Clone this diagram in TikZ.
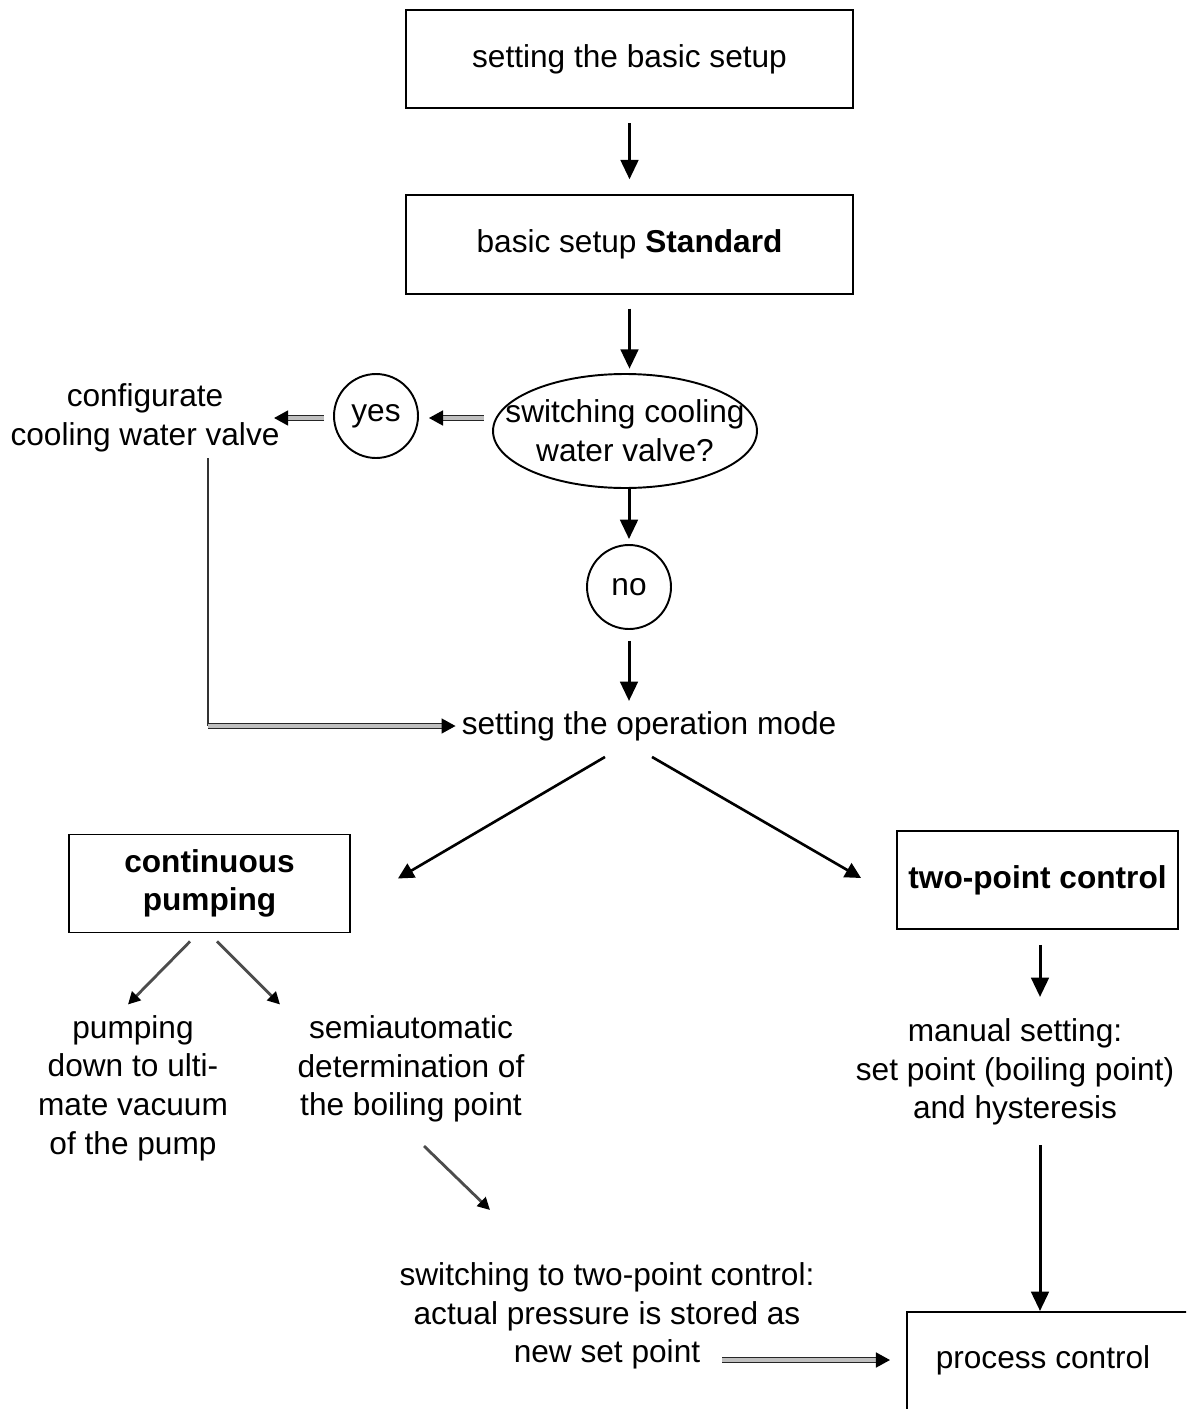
\documentclass[tikz,border=0pt]{standalone}
\usepackage{fontspec}
\setmainfont{Liberation Sans}
\usetikzlibrary{arrows.meta,shapes.geometric,calc}
\begin{document}
\begin{tikzpicture}[x=0.02cm,y=-0.02cm,
  font=\fontsize{18}{22}\selectfont,
  box/.style={draw, line width=1.1pt, align=center},
  bigbox/.style={box, minimum width=8.94cm, minimum height=1.97cm},
  modebox/.style={box, minimum width=5.62cm, minimum height=1.96cm, font=\fontsize{18}{21.6}\selectfont\bfseries},
  roundnode/.style={draw, circle, line width=1.1pt, minimum size=1.68cm, inner sep=0pt},
  txt/.style={align=center},
  mainarrow/.style={line width=1.7pt, -{Triangle[length=11pt,width=10pt]}},
  diagarrow/.style={line width=1.5pt, -{Triangle[length=9pt,width=9pt]}},
  smallarrow/.style={line width=1.6pt, draw=black!70, -{Triangle[length=7pt,width=7pt,fill=black,color=black]}},
  dblarrow/.style={draw=black!85, line width=1.05pt, double=gray!50, double distance=1.8pt, -{Triangle[length=8pt,width=8.5pt,fill=black,color=black]}}
]
\useasboundingbox (0,0) rectangle (1186,1409);
\clip (0,0) rectangle (1186,1409);
\fill[white] (0,0) rectangle (1186,1409);

% nodes
\node[bigbox] (b1) at (629.5,59) {setting the basic setup};
\node[bigbox] (b2) at (629.5,244.5) {basic setup \textbf{Standard}};
\node[draw, ellipse, line width=1.1pt, minimum width=5.28cm, minimum height=2.28cm, inner xsep=-40pt, inner ysep=-12pt, align=center] (ell) at (625,431) {switching cooling\\water valve?};
\node[roundnode] (yes) at (376,416) {yes};
\node[roundnode] (no) at (629,587) {no};
\node[txt] (cfg) at (145,418) {configurate\\cooling water valve};
\node[txt] (op) at (649,726) {setting the operation mode};
\node[modebox] (cp) at (209.5,883.5) {continuous\\pumping};
\node[modebox] (tp) at (1037.5,880) {two-point control};
\node[txt] (pump) at (133,1088) {pumping\\down to ulti-\\mate vacuum\\of the pump};
\node[txt] (semi) at (411,1069) {semiautomatic\\determination of\\the boiling point};
\node[txt] (manual) at (1015,1072) {manual setting:\\set point (boiling point)\\and hysteresis};
\node[txt] (sw) at (607,1316) {switching to two-point control:\\actual pressure is stored as\\new set point};
\node[draw, line width=1.1pt, anchor=north west, minimum width=6cm, minimum height=3cm] (pcbox) at (906,1311) {};
\node (pc) at (1043,1360) {process control};

\coordinate (pctop) at (1040,1311);
\coordinate (c1) at (208,458);
\coordinate (s1) at (424,1146);
\coordinate (s2) at (490,1210);

% connectors
\draw[mainarrow] ($(b1.south)+(0,14)$) -- ($(b2.north)-(0,15)$);
\draw[mainarrow] ($(b2.south)+(0,14)$) -- ($(b2.south)+(0,74)$);
\draw[mainarrow] ($(no.north)-(0,55)$) -- ($(no.north)-(0,5)$);
\draw[mainarrow] ($(no.south)+(0,11)$) -- ($(no.south)+(0,71)$);
\draw[dblarrow] ($(yes.east)+(65,2)$) -- ($(yes.east)+(10,2)$);
\draw[dblarrow] ($(yes.west)+(-9,2)$) -- ($(yes.west)+(-59,2)$);
\draw[line width=1.1pt, draw=black!80] (c1) -- (c1 |- op);
\draw[dblarrow] (c1 |- op) -- (op.west);
\draw[diagarrow] ($(op.south)+(-44,10)$) -- ($(cp.east)+(47,-5)$);
\draw[diagarrow] ($(op.south)+(3,10)$) -- ($(tp.west)+(-35,-2)$);
\draw[mainarrow] ($(tp.south)+(2.5,15)$) -- ($(tp.south)+(2.5,67)$);
\draw[mainarrow] ($(pctop)-(0,166)$) -- (pctop);
\draw[smallarrow] ($(cp.south)+(-19.5,8)$) -- ($(cp.south)+(-81.5,71)$);
\draw[smallarrow] ($(cp.south)+(7.5,8)$) -- ($(cp.south)+(70.5,71)$);
\draw[smallarrow] (s1) -- (s2);
\draw[dblarrow] ($(pcbox.north west)+(-184,49)$) -- ($(pcbox.north west)+(-16,49)$);
\end{tikzpicture}
\end{document}
